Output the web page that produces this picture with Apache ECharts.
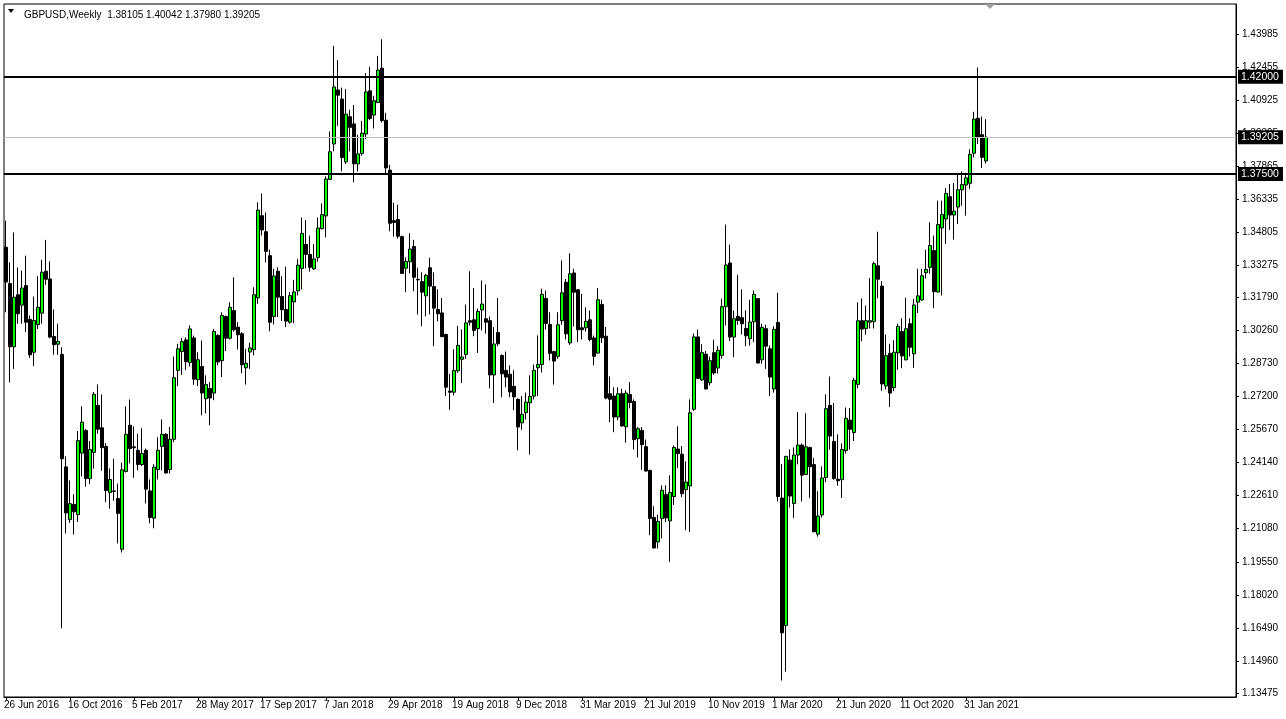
<!DOCTYPE html>
<html><head><meta charset="utf-8">
<script src="https://cdn.jsdelivr.net/npm/echarts@6/dist/echarts.min.js"></script>
<style>html,body{margin:0;padding:0;background:#fff;overflow:hidden}#c{width:1286px;height:719px}</style>
</head><body><div id="c"></div>
<script>
// Weekly GBPUSD candles, 26 Jun 2016 .. 7 Mar 2021
const opens=[1.3411,1.3243,1.2950,1.3191,1.3143,1.3234,1.3077,1.2925,1.3053,1.3106,1.3300,1.3264,1.2998,1.2962,1.2915,1.2394,1.2150,1.2221,1.2173,1.2458,
1.2563,1.2340,1.2461,1.2679,1.2575,1.2489,1.2276,1.2283,1.2248,1.2013,1.2373,1.2587,1.2487,1.2471,1.2405,1.2471,1.2283,1.2157,1.2382,1.2489,
1.2545,1.2382,1.2522,1.2841,1.2928,1.2982,1.2877,1.2991,1.2798,1.2859,1.2710,1.2757,1.2736,1.3003,1.2886,1.3090,1.2990,1.3118,1.3041,1.3011,
1.2853,1.2926,1.2937,1.3177,1.3557,1.3483,1.3372,1.3090,1.3300,1.3183,1.3123,1.3064,1.3158,1.3209,1.3313,1.3424,1.3378,1.3311,1.3363,1.3497,
1.3556,1.3725,1.3889,1.4139,1.4097,1.3806,1.4015,1.3982,1.3797,1.3845,1.3935,1.4135,1.4023,1.4081,1.4240,1.3999,1.3768,1.3534,1.3539,1.3460,
1.3314,1.3344,1.3414,1.3262,1.3252,1.3186,1.3316,1.3229,1.3123,1.3107,1.3007,1.2745,1.2740,1.2839,1.2892,1.2915,1.3071,1.3075,1.3034,1.3121,
1.3080,1.3071,1.2820,1.3016,1.2910,1.2841,1.2823,1.2767,1.2707,1.2598,1.2645,1.2691,1.2722,1.2853,1.2868,1.3174,1.3054,1.2928,1.2906,1.3071,
1.3249,1.2968,1.3292,1.3214,1.3038,1.3038,1.3075,1.2991,1.2921,1.3146,1.2999,1.2733,1.2722,1.2625,1.2733,1.2580,1.2729,1.2697,1.2525,1.2563,
1.2488,1.2378,1.2160,1.2047,1.2155,1.2266,1.2144,1.2257,1.2477,1.2453,1.2289,1.2306,1.2661,1.2996,1.2797,1.2916,1.2784,1.2923,1.2852,1.2910,
1.3136,1.3338,1.2995,1.3091,1.3085,1.3035,1.2988,1.3066,1.3173,1.2890,1.3034,1.2941,1.2755,1.3063,1.2250,1.1660,1.2426,1.2225,1.2449,1.2495,
1.2359,1.2484,1.2405,1.2083,1.2172,1.2345,1.2679,1.2512,1.2337,1.2335,1.2470,1.2611,1.2553,1.2776,1.3071,1.3035,1.3064,1.3067,1.3325,1.3231,
1.2769,1.2920,1.2761,1.2922,1.3021,1.2890,1.3057,1.2918,1.3157,1.3167,1.3293,1.3318,1.3396,1.3204,1.3500,1.3542,1.3645,1.3560,1.3597,1.3677,
1.3699,1.3707,1.3846,1.4008,1.3932,1.38105];
const highs=[1.3534,1.3341,1.3480,1.3318,1.3303,1.3372,1.3095,1.3183,1.3277,1.3353,1.3445,1.3345,1.3123,1.3057,1.2948,1.2443,1.2332,1.2267,1.2560,1.2674,
1.2570,1.2514,1.2741,1.2776,1.2730,1.2504,1.2387,1.2432,1.2317,1.2414,1.2674,1.2706,1.2582,1.2548,1.2573,1.2479,1.2336,1.2406,1.2532,1.2614,
1.2550,1.2579,1.2905,1.2964,1.2990,1.2994,1.3049,1.3002,1.2925,1.2979,1.2818,1.2787,1.3033,1.3008,1.3110,1.3095,1.3156,1.3272,1.3064,1.3018,
1.2941,1.2969,1.3226,1.3619,1.3660,1.3572,1.3400,1.3311,1.3318,1.3277,1.3321,1.3204,1.3260,1.3357,1.3549,1.3537,1.3465,1.3426,1.3549,1.3614,
1.3739,1.3947,1.4343,1.4277,1.4150,1.4143,1.4047,1.4070,1.3932,1.3996,1.4217,1.4246,1.4112,1.4297,1.4374,1.4033,1.3792,1.3617,1.3608,1.3465,
1.3364,1.3476,1.3445,1.3316,1.3295,1.3288,1.3362,1.3295,1.3216,1.3176,1.3011,1.2825,1.2939,1.3047,1.3030,1.3146,1.3300,1.3222,1.3127,1.3257,
1.3239,1.3090,1.3041,1.3176,1.2915,1.2928,1.2864,1.2842,1.2712,1.2722,1.2738,1.2818,1.2868,1.3003,1.3219,1.3211,1.3110,1.2932,1.3110,1.3350,
1.3264,1.3383,1.3311,1.3218,1.3195,1.3133,1.3118,1.3002,1.3222,1.3168,1.3042,1.2813,1.2763,1.2763,1.2756,1.2748,1.2787,1.2707,1.2579,1.2579,
1.2521,1.2381,1.2212,1.2173,1.2309,1.2309,1.2355,1.2493,1.2582,1.2491,1.2420,1.2707,1.3011,1.3030,1.2962,1.2931,1.2905,1.2983,1.2953,1.3172,
1.3516,1.3423,1.3118,1.3283,1.3216,1.3118,1.3168,1.3211,1.3176,1.3057,1.3052,1.2956,1.3045,1.3200,1.2407,1.2445,1.2475,1.2484,1.2648,1.2503,
1.2643,1.2488,1.2436,1.2282,1.2396,1.2730,1.2813,1.2690,1.2545,1.2503,1.2669,1.2667,1.2806,1.3156,1.3174,1.3141,1.3268,1.3344,1.3483,1.3254,
1.3007,1.2964,1.2980,1.3057,1.3082,1.3177,1.3082,1.3172,1.3311,1.3311,1.3399,1.3526,1.3465,1.3627,1.3627,1.3685,1.3704,1.3708,1.3753,1.3762,
1.3753,1.3865,1.4038,1.4243,1.4016,1.40042];
const lows=[1.3110,1.2786,1.2848,1.3057,1.3057,1.3018,1.2899,1.2861,1.3033,1.3057,1.3237,1.2990,1.2913,1.2913,1.1647,1.2086,1.2135,1.2081,1.2139,1.2350,
1.2303,1.2314,1.2386,1.2548,1.2376,1.2231,1.2201,1.2238,1.2040,1.1998,1.2368,1.2410,1.2344,1.2378,1.2398,1.2225,1.2133,1.2110,1.2336,1.2378,
1.2364,1.2364,1.2509,1.2768,1.2820,1.2843,1.2859,1.2774,1.2768,1.2633,1.2642,1.2587,1.2703,1.2864,1.2810,1.2930,1.2984,1.3021,1.2938,1.2828,
1.2775,1.2848,1.2910,1.3149,1.3465,1.3341,1.3022,1.3053,1.3088,1.3070,1.3041,1.3057,1.3059,1.3188,1.3215,1.3313,1.3298,1.3306,1.3344,1.3493,
1.3457,1.3722,1.3855,1.3973,1.3762,1.3796,1.3855,1.3711,1.3762,1.3835,1.3912,1.3999,1.3961,1.4078,1.3989,1.3747,1.3485,1.3460,1.3451,1.3288,
1.3203,1.3290,1.3208,1.3100,1.3045,1.3091,1.3100,1.2953,1.3068,1.2995,1.2722,1.2659,1.2725,1.2830,1.2782,1.2895,1.3049,1.2999,1.2922,1.3026,
1.3011,1.2758,1.2690,1.2953,1.2717,1.2763,1.2717,1.2657,1.2471,1.2566,1.2613,1.2451,1.2706,1.2722,1.2831,1.3030,1.2887,1.2775,1.2895,1.3052,
1.2984,1.2959,1.3044,1.2972,1.2984,1.3021,1.2976,1.2864,1.2918,1.2968,1.2707,1.2602,1.2555,1.2610,1.2580,1.2506,1.2665,1.2475,1.2438,1.2381,
1.2373,1.2078,1.2017,1.2016,1.2063,1.2139,1.1955,1.2218,1.2388,1.2254,1.2101,1.2093,1.2653,1.2802,1.2792,1.2753,1.2771,1.2821,1.2826,1.2895,
1.3049,1.2976,1.2902,1.3052,1.3007,1.2953,1.2956,1.2972,1.2873,1.2872,1.2848,1.2722,1.2738,1.2234,1.1405,1.1446,1.2206,1.2158,1.2406,1.2234,
1.2357,1.2251,1.2092,1.2071,1.2160,1.2324,1.2474,1.2335,1.2307,1.2250,1.2456,1.2475,1.2514,1.2758,1.2976,1.3006,1.3035,1.3035,1.3175,1.2747,
1.2753,1.2672,1.2745,1.2844,1.2851,1.2887,1.2905,1.2853,1.3107,1.3164,1.3266,1.3289,1.3129,1.3202,1.3188,1.3426,1.3491,1.3446,1.3519,1.3603,
1.3557,1.3681,1.3827,1.3889,1.3778,1.37980];
const closes=[1.3250,1.2950,1.3180,1.3103,1.3222,1.3064,1.2913,1.3072,1.3133,1.3295,1.3263,1.2995,1.2960,1.2975,1.2432,1.2181,1.2224,1.2186,1.2516,1.2601,
1.2340,1.2474,1.2730,1.2569,1.2483,1.2285,1.2336,1.2281,1.2179,1.2381,1.2545,1.2479,1.2483,1.2405,1.2456,1.2291,1.2160,1.2393,1.2471,1.2545,
1.2366,1.2522,1.2807,1.2941,1.2974,1.2881,1.3033,1.2800,1.2890,1.2736,1.2776,1.2713,1.3021,1.2880,1.3095,1.2990,1.3133,1.3029,1.3006,1.2867,
1.2874,1.2945,1.3191,1.3583,1.3491,1.3392,1.3064,1.3278,1.3180,1.3122,1.3069,1.3187,1.3204,1.3328,1.3475,1.3378,1.3318,1.3357,1.3500,1.3562,
1.3727,1.3853,1.4153,1.4115,1.3826,1.4027,1.3966,1.3797,1.3843,1.3939,1.4130,1.4007,1.4089,1.4231,1.3997,1.3778,1.3522,1.3526,1.3462,1.3290,
1.3345,1.3403,1.3272,1.3260,1.3203,1.3281,1.3231,1.3129,1.3103,1.2997,1.2763,1.2740,1.2840,1.2957,1.2903,1.3061,1.3064,1.3026,1.3114,1.3148,
1.3064,1.2820,1.2963,1.2964,1.2825,1.2810,1.2741,1.2718,1.2579,1.2638,1.2694,1.2720,1.2841,1.2868,1.3193,1.3058,1.2920,1.2884,1.3052,1.3200,
1.3010,1.3288,1.3203,1.3029,1.3029,1.3068,1.2984,1.2906,1.3168,1.2992,1.2713,1.2707,1.2625,1.2733,1.2584,1.2736,1.2692,1.2520,1.2571,1.2497,
1.2375,1.2155,1.2019,1.2142,1.2286,1.2158,1.2276,1.2484,1.2456,1.2270,1.2324,1.2645,1.2996,1.2804,1.2924,1.2755,1.2886,1.2829,1.2934,1.3136,
1.3329,1.2995,1.3080,1.3072,1.3057,1.3001,1.3065,1.3193,1.2875,1.3040,1.2953,1.2810,1.3031,1.2257,1.1626,1.2443,1.2259,1.2449,1.2495,1.2356,
1.2487,1.2395,1.2094,1.2167,1.2343,1.2664,1.2537,1.2340,1.2330,1.2475,1.2619,1.2568,1.2795,1.3071,1.3032,1.3071,1.3071,1.3335,1.3263,1.2778,
1.2909,1.2736,1.2925,1.3044,1.2908,1.3034,1.2948,1.3144,1.3186,1.3279,1.3308,1.3419,1.3205,1.3516,1.3562,1.3660,1.3560,1.3578,1.3677,1.3701,
1.3732,1.3841,1.4004,1.3919,1.3827,1.39205];
const dateTicks=["26 Jun 2016","16 Oct 2016","5 Feb 2017","28 May 2017","17 Sep 2017","7 Jan 2018","29 Apr 2018","19 Aug 2018",
"9 Dec 2018","31 Mar 2019","21 Jul 2019","10 Nov 2019","1 Mar 2020","21 Jun 2020","11 Oct 2020","31 Jan 2021"];
const priceTicks=[1.13475,1.14960,1.16490,1.18020,1.19550,1.21080,1.22610,1.24140,1.25670,1.27200,1.28730,1.30260,1.31790,
1.33275,1.34805,1.36335,1.37865,1.39395,1.40925,1.42455,1.43985];
const levels=[1.42000,1.37500];
const symbolName="GBPUSD,Weekly";
const tickEvery=16;
const totalSlots=308;

const n=opens.length;
const cats=Array.from({length:totalSlots},(_,i)=>String(i));
const candles=opens.map((o,i)=>[o,closes[i],lows[i],highs[i]]);
const last=n-1;
const header=symbolName+"  "+[opens[last],highs[last],lows[last],closes[last]].map(v=>v.toFixed(5)).join(" ");
const FONT="Liberation Sans";

const chart=echarts.init(document.getElementById('c'),null,{renderer:'canvas'});
const lineLabel={show:true,position:'end',distance:2,formatter:p=>Number(p.value).toFixed(5),
  backgroundColor:'#000',color:'#fff',padding:[2,4,1,3],fontFamily:FONT,fontSize:10.5,lineHeight:11};
chart.setOption({
  animation:false,
  backgroundColor:'#fff',
  title:{text:header,left:19,top:5,textStyle:{fontFamily:FONT,fontSize:10,fontWeight:'normal',color:'#000'}},
  grid:{left:4,right:50,top:4,bottom:22,show:true,borderColor:'#000',borderWidth:1,backgroundColor:'#fff'},
  xAxis:{type:'category',data:cats,boundaryGap:true,
    axisLine:{show:true,lineStyle:{color:'#000',width:1}},
    axisTick:{show:true,alignWithLabel:true,length:3,interval:(i)=>i%tickEvery===0&&i<n,lineStyle:{color:'#000'}},
    axisLabel:{show:true,interval:(i)=>i%tickEvery===0&&i<n,align:'left',margin:3,
      formatter:(v,i)=>dateTicks[i/tickEvery]||'',fontFamily:FONT,fontSize:10,color:'#000',padding:[0,0,0,-2]},
    splitLine:{show:false}},
  yAxis:{type:'value',position:'right',min:1.1329,max:1.4537,scale:true,
    axisLine:{show:true,onZero:false,lineStyle:{color:'#000',width:1}},
    axisTick:{show:true,length:3,customValues:priceTicks,lineStyle:{color:'#000'}},
    axisLabel:{show:true,customValues:priceTicks,margin:6,formatter:v=>v.toFixed(5),fontFamily:FONT,fontSize:10,color:'#000'},
    splitLine:{show:false}},
  graphic:[
    {type:'polygon',shape:{points:[[8,9],[14,9],[11,13]]},style:{fill:'#000'},z:100},
    {type:'polygon',shape:{points:[[985,4],[995,4],[990,9]]},style:{fill:'#a0a0a0'},z:100}
  ],
  series:[{
    type:'candlestick',data:candles,barWidth:3,
    itemStyle:{color:'#00ff00',color0:'#000000',borderColor:'#000000',borderColor0:'#000000',borderWidth:1},
    emphasis:{disabled:true},
    markLine:{silent:true,symbol:['none','none'],animation:false,precision:5,
      data:[
        {yAxis:closes[last],lineStyle:{color:'#c0c0c0',width:1,type:'solid'},label:lineLabel},
        ...levels.map(v=>({yAxis:v,lineStyle:{color:'#000',width:2,type:'solid'},label:lineLabel}))
      ]}
  }]
});
</script></body></html>
